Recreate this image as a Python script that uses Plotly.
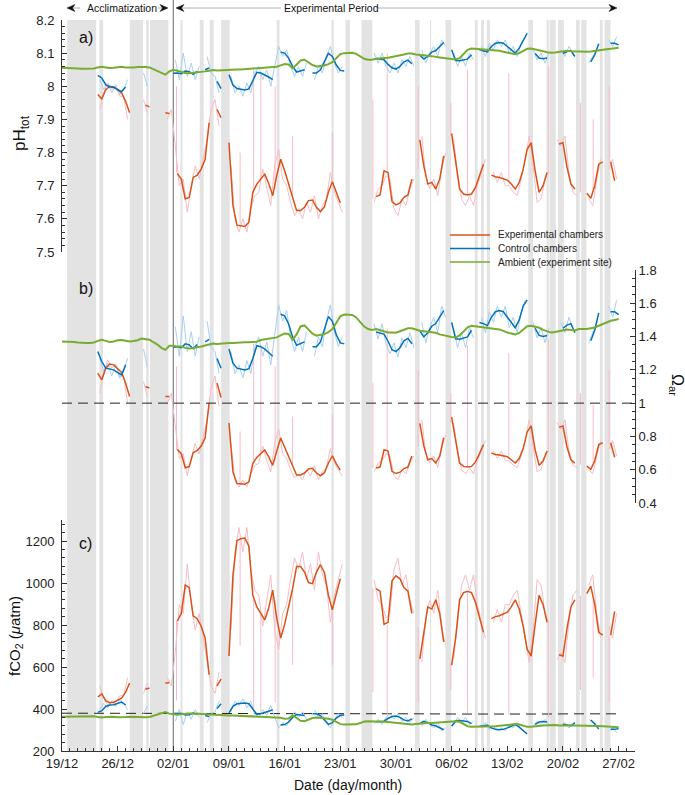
import plotly.graph_objects as go
import pandas as pd

N = None
START = pd.Timestamp("2014-12-19")
END_DAYS = 72.06

# ---------------- data (0.5-day grid, day 0 = 19/12) ----------------
exp_ph = [N,N,N,N,N,N,N,N,N,7.975,
 7.962,7.99,8.0,7.998,7.99,7.98,7.955,7.92,N,N,
 N,7.943,7.938,N,N,N,7.92,7.918,N,7.737,
 7.72,7.66,7.665,7.725,7.732,7.75,7.78,7.89,N,7.93,
 7.905,N,7.83,7.64,7.581,7.578,7.577,7.59,7.68,7.705,
 7.72,7.735,7.707,7.67,7.73,7.78,7.745,7.707,7.667,7.625,
 7.625,7.635,7.655,7.657,7.635,7.622,7.636,7.68,7.712,7.677,
 7.648,N,N,N,N,N,N,N,N,7.667,
 7.672,7.745,7.74,7.652,7.642,7.648,7.665,7.672,7.72,N,
 7.838,7.76,7.705,7.71,7.69,7.72,7.79,N,7.858,7.78,
 7.69,7.675,7.672,7.675,7.695,7.73,7.765,N,7.732,7.727,
 7.725,7.722,7.717,7.705,7.69,7.71,7.75,7.81,7.83,7.745,
 7.68,7.7,7.74,N,N,7.826,7.83,7.757,7.705,7.69,
 N,N,7.677,7.662,7.7,7.765,7.772,N,7.772,7.715,N]
ctl_ph = [N,N,N,N,N,N,N,N,N,8.033,
 8.025,8.005,7.998,7.997,7.99,7.984,7.998,N,N,N,
 N,N,N,N,N,N,N,N,8.039,8.04,
 8.038,8.046,8.044,8.036,8.045,N,8.05,8.055,N,8.015,
 7.993,N,8.035,8.004,7.993,7.99,7.989,7.992,8.015,8.042,
 8.04,8.035,8.028,8.02,N,8.103,8.1,8.085,8.06,8.043,
 8.047,8.05,N,8.04,8.04,8.05,8.075,8.099,8.09,8.064,
 8.048,8.046,N,N,N,N,N,N,N,8.084,
 8.082,8.08,8.066,8.056,8.052,8.06,8.074,8.079,8.068,N,
 8.094,8.082,8.09,8.103,8.108,8.12,8.132,N,8.11,8.078,
 8.077,8.079,8.082,8.095,N,8.11,8.108,8.104,8.12,8.13,
 8.132,8.13,8.12,8.11,8.1,8.115,8.14,8.16,N,8.099,
 8.085,8.083,8.085,N,N,N,8.099,8.105,8.108,8.09,
 N,N,N,8.074,8.095,8.128,N,N,8.13,8.13,8.125]
amb_ph = [8.056,8.056,8.055,8.055,8.054,8.053,8.053,8.053,8.054,8.057,
 8.059,8.057,8.055,8.056,8.058,8.059,8.057,8.056,8.057,8.058,
 8.059,8.058,8.057,8.052,8.047,8.04,8.035,8.045,8.05,8.047,
 8.043,8.04,8.039,8.04,8.041,8.043,8.045,8.047,8.049,8.048,
 8.049,8.05,8.05,8.05,8.051,8.051,8.052,8.052,8.053,8.053,
 8.054,8.055,8.056,8.057,8.059,8.063,8.067,8.066,8.055,8.065,
 8.078,8.08,8.072,8.064,8.06,8.061,8.063,8.067,8.073,8.085,
 8.097,8.1,8.1,8.101,8.098,8.091,8.083,8.08,8.08,8.083,
 8.085,8.085,8.086,8.088,8.09,8.093,8.096,8.099,8.099,8.096,
 8.094,8.093,8.092,8.091,8.09,8.087,8.085,8.083,8.082,8.081,
 8.085,8.097,8.11,8.114,8.113,8.112,8.111,8.111,8.11,8.109,
 8.107,8.104,8.101,8.099,8.097,8.1,8.107,8.113,8.114,8.112,
 8.11,8.106,8.103,8.101,8.102,8.104,8.106,8.107,8.106,8.105,
 8.105,8.104,8.104,8.105,8.106,8.108,8.11,8.112,8.114,8.115,8.116]

exp_om = [N,N,N,N,N,N,N,N,N,1.18,
 1.14,1.21,1.235,1.23,1.21,1.185,1.12,1.04,N,N,
 N,1.10,1.09,N,N,N,1.04,1.04,N,0.722,
 0.696,0.612,0.619,0.703,0.714,0.742,0.791,1.0,N,1.12,
 1.034,N,0.881,0.587,0.517,0.514,0.513,0.527,0.639,0.674,
 0.696,0.719,0.677,0.626,0.711,0.791,0.735,0.677,0.622,0.568,
 0.568,0.58,0.605,0.608,0.58,0.564,0.582,0.639,0.684,0.635,
 0.597,N,N,N,N,N,N,N,N,0.61,
 0.616,0.72,0.712,0.59,0.577,0.585,0.607,0.616,0.682,N,
 0.878,0.743,0.66,0.667,0.64,0.682,0.792,N,0.916,0.775,
 0.64,0.62,0.616,0.62,0.647,0.697,0.751,N,0.70,0.692,
 0.689,0.685,0.678,0.66,0.64,0.667,0.727,0.827,0.863,0.72,
 0.626,0.654,0.712,N,N,0.856,0.863,0.738,0.66,0.64,
 N,N,0.622,0.603,0.654,0.751,0.762,N,0.762,0.675,N]
ctl_om = [N,N,N,N,N,N,N,N,N,1.31,
 1.25,1.21,1.205,1.2,1.184,1.17,1.23,N,N,N,
 N,N,N,N,N,N,N,N,1.336,1.339,
 1.333,1.356,1.35,1.327,1.353,N,1.368,1.383,N,1.268,
 1.21,N,1.325,1.24,1.21,1.203,1.2,1.207,1.268,1.345,
 1.339,1.325,1.305,1.282,N,1.534,1.524,1.476,1.398,1.348,
 1.36,1.368,N,1.339,1.339,1.368,1.445,1.52,1.492,1.41,
 1.362,1.356,N,N,N,N,N,N,N,1.427,
 1.42,1.415,1.372,1.321,1.31,1.333,1.375,1.389,1.357,N,
 1.435,1.398,1.423,1.462,1.478,1.516,1.556,N,1.485,1.387,
 1.384,1.389,1.398,1.438,N,1.485,1.478,1.466,1.516,1.549,
 1.556,1.549,1.516,1.485,1.453,1.50,1.583,1.62,N,1.45,
 1.407,1.401,1.407,N,N,N,1.45,1.469,1.478,1.423,
 N,N,N,1.375,1.438,1.542,N,N,1.549,1.549,1.532]
amb_om = [1.371,1.371,1.368,1.368,1.365,1.362,1.362,1.362,1.365,1.374,
 1.38,1.374,1.368,1.371,1.378,1.38,1.374,1.371,1.374,1.378,
 1.388,1.385,1.381,1.366,1.352,1.332,1.32,1.345,1.345,1.34,
 1.34,1.332,1.329,1.332,1.335,1.34,1.346,1.352,1.358,1.355,
 1.358,1.361,1.361,1.361,1.364,1.364,1.366,1.366,1.369,1.369,
 1.379,1.382,1.385,1.388,1.395,1.407,1.419,1.416,1.382,1.413,
 1.461,1.467,1.442,1.418,1.405,1.408,1.415,1.426,1.445,1.483,
 1.522,1.532,1.53,1.53,1.515,1.49,1.46,1.445,1.44,1.445,
 1.437,1.43,1.425,1.424,1.423,1.432,1.441,1.45,1.45,1.441,
 1.435,1.432,1.429,1.425,1.423,1.413,1.407,1.401,1.398,1.395,
 1.407,1.43,1.455,1.465,1.462,1.459,1.455,1.455,1.452,1.449,
 1.443,1.434,1.424,1.419,1.413,1.422,1.443,1.462,1.465,1.459,
 1.453,1.44,1.431,1.424,1.428,1.434,1.44,1.443,1.44,1.437,
 1.445,1.443,1.445,1.45,1.455,1.465,1.475,1.485,1.495,1.5,1.505]

exp_fco2 = [N,N,N,N,N,N,N,N,N,457,
 472,440,430,432,440,451,480,523,N,N,
 N,494,500,N,N,N,523,526,N,819,
 855,990,978,844,830,794,738,563,N,510,
 542,N,652,1039,1202,1211,1214,1175,942,886,
 855,824,882,966,834,738,803,882,973,1078,
 1078,1052,1002,997,1052,1087,1050,942,872,949,
 1020,N,N,N,N,N,N,N,N,973,
 961,803,813,1010,1034,1020,978,961,855,N,
 639,775,886,876,920,855,720,N,609,738,
 920,954,961,954,908,834,765,N,830,840,
 844,851,861,886,920,876,794,685,652,803,
 942,897,813,N,N,658,652,781,886,920,
 N,N,949,985,897,765,752,N,752,865,N]
ctl_fco2 = [N,N,N,N,N,N,N,N,N,384,
 392,412,419,420,427,433,419,N,N,N,
 N,N,N,N,N,N,N,N,378,377,
 379,372,373,381,373,N,369,364,N,402,
 425,N,382,413,425,427,428,425,402,375,
 377,382,389,397,N,324,326,338,360,374,
 371,369,N,377,377,369,347,327,335,357,
 370,372,N,N,N,N,N,N,N,339,
 341,342,355,364,367,360,348,343,353,N,
 331,341,335,324,320,310,301,N,318,344,
 345,343,341,330,N,318,320,323,310,303,
 301,303,310,318,326,314,296,281,N,327,
 338,340,338,N,N,N,327,322,320,335,
 N,N,N,348,330,304,N,N,303,303,307]
amb_fco2 = [363,363,364,364,365,366,366,366,365,362,
 360,362,364,363,361,360,362,363,362,361,
 360,361,362,367,373,380,385,378,374,373,
 375,378,379,378,377,375,373,371,370,370,
 370,369,369,369,368,368,367,367,366,366,
 365,364,363,362,360,358,354,355,370,356,
 344,342,350,357,360,359,358,354,349,339,
 328,326,326,325,327,333,340,342,342,340,
 339,339,338,336,334,332,329,326,326,329,
 331,332,333,333,334,337,339,340,341,342,
 339,328,318,315,315,316,317,317,318,318,
 320,322,325,326,328,326,320,315,315,316,
 318,321,323,325,324,322,321,320,321,322,
 322,322,322,322,321,319,318,316,315,314,313]

# raw (unsmoothed) records, 0.5-day grid offset by 0.25 day
exp_ph_raw = [N,N,N,N,N,N,N,N,N,7.93,
 7.98,8.01,7.99,8.0,7.97,7.97,7.9,N,N,N,
 7.96,7.92,N,N,N,N,7.9,7.93,7.82,7.7,
 7.72,7.62,7.7,7.76,7.72,7.78,7.84,7.93,7.96,7.88,
 N,N,7.76,7.6,7.56,7.6,7.56,7.63,7.67,7.68,
 7.75,7.69,7.64,7.76,7.81,7.72,7.7,7.65,7.61,7.63,
 7.6,7.65,7.62,7.67,7.6,7.64,7.66,7.74,7.68,7.65,
 7.62,N,N,N,N,N,N,N,7.65,7.69,
 7.7,7.73,7.72,7.63,7.61,7.66,7.64,7.69,7.72,N,
 7.85,7.73,7.69,7.72,7.67,7.75,7.8,N,7.84,7.74,
 7.66,7.64,7.67,7.64,7.7,7.74,7.78,N,7.74,7.71,
 7.74,7.7,7.7,7.68,7.67,7.72,7.78,7.85,7.76,7.65,
 7.66,7.72,7.74,N,7.84,7.82,7.85,7.74,7.68,7.67,
 N,N,7.66,7.64,7.72,7.78,N,7.75,7.78,7.72]
ctl_ph_raw = [N,N,N,N,N,N,N,N,N,8.02,
 7.99,8.01,7.98,8.005,7.975,7.99,8.02,N,N,N,
 8.04,8.0,N,N,N,N,N,N,8.08,8.02,
 8.1,8.03,8.07,8.02,8.06,N,8.09,8.04,8.03,7.98,
 N,N,8.03,7.98,8.0,7.97,8.01,7.98,8.04,8.06,
 8.02,8.05,8.0,8.06,8.12,8.09,8.11,8.06,8.03,8.06,
 8.03,8.07,N,8.02,8.06,8.04,8.09,8.12,8.07,8.04,
 8.06,N,N,N,N,N,N,N,8.1,8.07,
 8.1,8.06,8.04,8.07,8.04,8.08,8.06,8.09,8.06,N,
 8.11,8.07,8.1,8.12,8.09,8.14,8.12,N,8.1,8.06,
 8.09,8.06,8.1,8.08,N,8.12,8.09,8.13,8.11,8.14,
 8.12,8.14,8.1,8.12,8.09,8.13,8.15,N,8.11,8.08,
 8.1,8.07,8.1,N,N,8.11,8.09,8.12,8.1,N,
 N,N,8.07,8.09,8.11,N,N,8.14,8.12,8.15]
exp_om_raw = [N,N,N,N,N,N,N,N,N,1.06,
 1.18,1.26,1.21,1.235,1.16,1.16,1.0,N,N,N,
 1.13,1.04,N,N,N,N,1.0,1.06,0.862,0.667,
 0.696,0.562,0.667,0.758,0.696,0.791,0.9,1.091,1.163,0.98,
 N,N,0.758,0.539,0.495,0.539,0.495,0.574,0.626,0.639,
 0.742,0.653,0.587,0.758,0.844,0.696,0.667,0.599,0.55,0.574,
 0.539,0.599,0.562,0.626,0.539,0.587,0.612,0.727,0.64,0.599,
 0.562,N,N,N,N,N,N,N,0.587,0.64,
 0.654,0.697,0.682,0.563,0.539,0.6,0.575,0.64,0.682,N,
 0.9,0.697,0.64,0.682,0.613,0.727,0.81,N,0.882,0.712,
 0.6,0.575,0.613,0.575,0.654,0.712,0.775,N,0.712,0.667,
 0.712,0.654,0.654,0.626,0.613,0.682,0.775,0.9,0.743,0.587,
 0.6,0.682,0.712,N,0.882,0.845,0.9,0.712,0.626,0.613,
 N,N,0.6,0.575,0.682,0.775,N,0.72,0.775,0.682]
ctl_om_raw = [N,N,N,N,N,N,N,N,N,1.27,
 1.19,1.24,1.165,1.23,1.15,1.19,1.27,N,N,N,
 1.325,1.215,N,N,N,N,N,N,1.46,1.282,
 1.524,1.31,1.429,1.282,1.398,N,1.492,1.339,1.31,1.178,
 N,N,1.31,1.178,1.229,1.152,1.255,1.178,1.339,1.398,
 1.282,1.368,1.229,1.398,1.59,1.492,1.557,1.398,1.31,1.398,
 1.31,1.429,N,1.282,1.398,1.339,1.492,1.59,1.429,1.339,
 1.398,N,N,N,N,N,N,N,1.477,1.385,
 1.477,1.355,1.297,1.363,1.277,1.392,1.333,1.423,1.333,N,
 1.485,1.363,1.453,1.516,1.423,1.583,1.516,N,1.453,1.333,
 1.423,1.333,1.453,1.392,N,1.516,1.423,1.549,1.485,1.583,
 1.516,1.583,1.453,1.516,1.423,1.549,1.618,N,1.485,1.392,
 1.453,1.363,1.453,N,N,1.485,1.423,1.516,1.453,N,
 N,N,1.363,1.423,1.485,N,N,1.583,1.516,1.618]
exp_fco2_raw = [N,N,N,N,N,N,N,N,N,510,
 451,419,440,430,463,463,549,N,N,N,
 474,523,N,N,N,N,549,510,668,897,
 855,1092,897,775,855,738,636,510,474,577,
 N,N,775,1147,1264,1147,1264,1065,966,942,
 794,920,1039,775,685,855,897,1015,1119,1065,
 1147,1015,1092,966,1147,1039,990,813,942,1015,
 1092,N,N,N,N,N,N,N,1015,920,
 897,834,855,1065,1119,990,1039,920,855,N,
 621,834,920,855,966,794,702,N,636,813,
 990,1039,966,1039,897,813,738,N,813,876,
 813,897,897,942,966,855,738,621,775,1015,
 990,855,813,N,636,668,621,813,942,966,
 N,N,990,1039,855,738,N,794,738,855]
ctl_fco2_raw = [N,N,N,N,N,N,N,N,N,397,
 427,406,437,411,443,427,397,N,N,N,
 377,417,N,N,N,N,N,N,342,397,
 326,387,351,397,360,N,335,377,387,437,
 N,N,387,437,417,449,406,437,377,360,
 397,369,417,360,310,335,318,360,387,360,
 387,351,N,397,360,377,335,310,351,377,
 360,N,N,N,N,N,N,N,326,351,
 326,360,377,351,377,342,360,335,360,N,
 318,351,326,310,335,296,310,N,326,360,
 335,360,326,342,N,310,335,303,318,296,
 310,296,326,310,335,303,288,N,318,342,
 326,351,326,N,N,318,335,310,326,N,
 N,N,351,335,318,N,N,296,310,288]

# short excursions of the experimental chambers towards ambient conditions
spike_days = [14.4, 22.4, 24.1, 25.0, 26.8, 29.0, 34.0, 39.1, 40.9, 44.8, 48.9, 51.0, 56.2, 61.2, 65.2, 66.8, 68.8]
spike_ph_base = [7.74, 7.58, 7.68, 7.72, 7.69, 7.667, 7.712, 7.66, 7.745, 7.75, 7.85, 7.672, 7.71, 7.74, 7.68, 7.69, 7.77]
spike_ph_top = [8.0, 7.8, 8.05, 8.04, 8.0, 7.85, 7.86, 7.96, 8.1, 8.0, 7.95, 8.05, 8.04, 8.06, 7.95, 7.9, 8.0]
spike_om_base = [0.72, 0.515, 0.64, 0.70, 0.65, 0.62, 0.684, 0.61, 0.72, 0.74, 0.88, 0.616, 0.667, 0.71, 0.63, 0.64, 0.76]
spike_om_top = [1.22, 0.83, 1.36, 1.33, 1.22, 0.92, 0.93, 1.12, 1.45, 1.2, 1.06, 1.35, 1.3, 1.38, 1.06, 0.99, 1.2]
spike_fco2_base = [820, 1210, 940, 855, 920, 973, 872, 975, 803, 790, 620, 961, 870, 813, 940, 920, 752]
spike_fco2_top = [440, 700, 385, 390, 430, 610, 610, 480, 330, 430, 490, 380, 370, 360, 490, 550, 430]

# atmospheric reference fCO2 (every 5 days)
atm_days = [0, 5, 10, 15, 20, 25, 30, 35, 40, 45, 50, 55, 60, 65, 70]
atm_fco2 = [380, 380, 380, 380, 379, 379, 379, 378, 378, 377, 376, 375, 376, 377, 377]
omega_threshold = 1.0

# periods without data (day offsets)
gap_start = [0.64, 4.70, 8.52, 10.58, 11.06, 14.90, 17.32, 18.58, 20.01, 27.00, 33.89, 35.65, 37.66, 44.39,
             46.28, 48.23, 51.91, 52.69, 53.42, 58.64, 60.93, 61.31, 62.36, 64.64, 65.30, 67.64, 68.23]
gap_end = [4.29, 5.17, 10.20, 10.90, 13.38, 15.15, 17.82, 19.08, 21.09, 27.35, 34.18, 36.21, 39.02, 44.98,
           46.43, 48.94, 52.28, 53.07, 53.82, 59.23, 61.22, 62.09, 63.11, 65.11, 65.96, 68.00, 68.98]
experiment_start_day = 14

x_ticks_labels = ["19/12", "26/12", "02/01", "09/01", "16/01", "23/01", "30/01", "06/02", "13/02", "20/02", "27/02"]

# ---------------- figure ----------------
def day(d):
    return START + pd.Timedelta(days=d)

t_main = [day(0.5 * k) for k in range(len(amb_ph))]
t_raw = [day(0.25 + 0.5 * k) for k in range(len(exp_ph_raw))]

RED = "#D95319"
BLUE = "#0072BD"
GREEN = "#77AC30"
PINK = "#f8bcc6"
LBLUE = "#a9cff2"

fig = go.Figure()

def spikes(base, top):
    xs, ys = [], []
    for d, b, t in zip(spike_days, base, top):
        xs += [day(d), day(d), None]
        ys += [b, t, None]
    return xs, ys

def panel(yax, e_raw, c_raw, e, c, a, sb, st):
    sx, sy = spikes(sb, st)
    fig.add_trace(go.Scatter(x=t_raw, y=e_raw, mode="lines", line=dict(color=PINK, width=1), yaxis=yax, hoverinfo="skip"))
    fig.add_trace(go.Scatter(x=sx, y=sy, mode="lines", line=dict(color=PINK, width=1), yaxis=yax, hoverinfo="skip"))
    fig.add_trace(go.Scatter(x=t_raw, y=c_raw, mode="lines", line=dict(color=LBLUE, width=1), yaxis=yax, hoverinfo="skip"))
    fig.add_trace(go.Scatter(x=t_main, y=e, mode="lines", line=dict(color=RED, width=1.5), yaxis=yax))
    fig.add_trace(go.Scatter(x=t_main, y=c, mode="lines", line=dict(color=BLUE, width=1.5), yaxis=yax))
    fig.add_trace(go.Scatter(x=t_main, y=a, mode="lines", line=dict(color=GREEN, width=2), yaxis=yax))

panel("y", exp_ph_raw, ctl_ph_raw, exp_ph, ctl_ph, amb_ph, spike_ph_base, spike_ph_top)
panel("y2", exp_om_raw, ctl_om_raw, exp_om, ctl_om, amb_om, spike_om_base, spike_om_top)
fig.add_trace(go.Scatter(x=[day(d) for d in atm_days], y=atm_fco2, mode="lines",
                         line=dict(color="#222", width=1, dash="10px,6px"), yaxis="y3"))
panel("y3", exp_fco2_raw, ctl_fco2_raw, exp_fco2, ctl_fco2, amb_fco2, spike_fco2_base, spike_fco2_top)

W, H, L, T, R, B = 685, 795, 62, 20, 50, 44
PW, PH = W - L - R, H - T - B
def px(x):
    return (x - L) / PW
def py(y):
    return (H - B - y) / PH

shapes = []
for s, e in zip(gap_start, gap_end):
    shapes.append(dict(type="rect", xref="x", yref="paper", x0=day(s), x1=day(e), y0=0, y1=1,
                       fillcolor="#e3e3e3", line=dict(width=0), layer="below"))
shapes.append(dict(type="line", xref="x", yref="paper", x0=day(experiment_start_day), x1=day(experiment_start_day),
                   y0=0, y1=py(0), line=dict(color="#8a8a8a", width=1.3), layer="below"))
shapes.append(dict(type="line", xref="paper", yref="y2", x0=0, x1=1, y0=omega_threshold, y1=omega_threshold,
                   line=dict(color="#222", width=1, dash="10px,6px")))

# header arrows: thin grey shafts and small dark notched heads
for x0, x1 in [(71, 80), (158, 164), (180, 281), (378, 613)]:
    shapes.append(dict(type="line", xref="paper", yref="paper", x0=px(x0), x1=px(x1), y0=py(8), y1=py(8),
                       line=dict(color="#999", width=0.8)))
for tip, direction in [(67, 1), (168, -1), (176, 1), (617, -1)]:
    path = "M {:.5f},{:.5f} L {:.5f},{:.5f} L {:.5f},{:.5f} L {:.5f},{:.5f} Z".format(
        px(tip), py(8), px(tip + 8 * direction), py(4.5), px(tip + 5.5 * direction), py(8),
        px(tip + 8 * direction), py(11.5))
    shapes.append(dict(type="path", xref="paper", yref="paper", path=path, fillcolor="#111",
                       line=dict(color="#111", width=0.5)))

legend_items = [("Experimental chambers", RED), ("Control chambers", BLUE), ("Ambient (experiment site)", GREEN)]
annotations = []
for i, (name, col) in enumerate(legend_items):
    yy = py(235 + 13.5 * i)
    shapes.append(dict(type="line", xref="paper", yref="paper", x0=px(450), x1=px(490), y0=yy, y1=yy,
                       line=dict(color=col, width=1.5)))
    annotations.append(dict(xref="paper", yref="paper", x=px(496), y=yy, text=name, showarrow=False,
                            xanchor="left", yanchor="middle", font=dict(size=10, color="#222")))

for lab, yy in [("a)", 37), ("b)", 288), ("c)", 543)]:
    annotations.append(dict(xref="paper", yref="paper", x=px(77), y=py(yy), text=lab, showarrow=False,
                            xanchor="left", yanchor="middle", font=dict(size=16, color="#111")))

centered = dict(showarrow=False, xanchor="center", yanchor="middle")
annotations += [
    dict(xref="paper", yref="paper", x=px(21), y=py(133), text="pH<sub>tot</sub>", textangle=-90,
         font=dict(size=17, color="#111"), **centered),
    dict(xref="paper", yref="paper", x=px(15), y=py(636), text="fCO<sub>2</sub> (<i>μ</i>atm)", textangle=-90,
         font=dict(size=15, color="#111"), **centered),
    dict(xref="paper", yref="paper", x=px(677), y=py(385), text="Ω<sub>ar</sub>", textangle=90,
         font=dict(size=16, color="#111"), **centered),
    dict(xref="paper", yref="paper", x=px(348), y=py(785), text="Date (day/month)",
         font=dict(size=14, color="#111"), **centered),
    dict(xref="paper", yref="paper", x=px(122), y=py(8), text="Acclimatization",
         font=dict(size=10.5, color="#111"), **centered),
    dict(xref="paper", yref="paper", x=px(331), y=py(8), text="Experimental Period",
         font=dict(size=10.5, color="#111"), **centered),
]

axis_common = dict(showline=True, linecolor="#333", linewidth=1, ticks="inside", ticklen=5, tickcolor="#333",
                   showgrid=False, zeroline=False, tickfont=dict(size=13, color="#222"))

fig.update_layout(
    width=W, height=H, margin=dict(l=L, r=R, t=T, b=B),
    plot_bgcolor="white", paper_bgcolor="white", showlegend=False,
    font=dict(family="Liberation Sans, Arial, sans-serif", color="#222"),
    xaxis=dict(type="date", range=[START, day(END_DAYS)], anchor="y3",
               tickvals=[day(7 * i) for i in range(len(x_ticks_labels))], ticktext=x_ticks_labels,
               minor=dict(dtick=86400000, tick0=START, ticks="inside", ticklen=3, tickcolor="#333", showgrid=False),
               **axis_common),
    yaxis=dict(domain=[py(252), 1], range=[7.5, 8.2], anchor="x", dtick=0.1, tick0=7.5, ticklabelstandoff=4,
               minor=dict(dtick=0.02, ticks="inside", ticklen=3, tickcolor="#333", showgrid=False), **axis_common),
    yaxis2=dict(domain=[py(503), py(270)], range=[0.4, 1.8], anchor="x", side="right", dtick=0.2, tick0=0.4,
                minor=dict(dtick=0.05, ticks="inside", ticklen=3, tickcolor="#333", showgrid=False), **axis_common),
    yaxis3=dict(domain=[0, py(520)], range=[200, 1300], anchor="x", dtick=200, tick0=200, ticklabelstandoff=4,
                minor=dict(dtick=40, ticks="inside", ticklen=3, tickcolor="#333", showgrid=False), **axis_common),
    shapes=shapes, annotations=annotations,
)

fig.write_html("out.html", config={"displayModeBar": False},
               post_script="document.body.style.margin='0px';document.body.style.overflow='hidden';")
